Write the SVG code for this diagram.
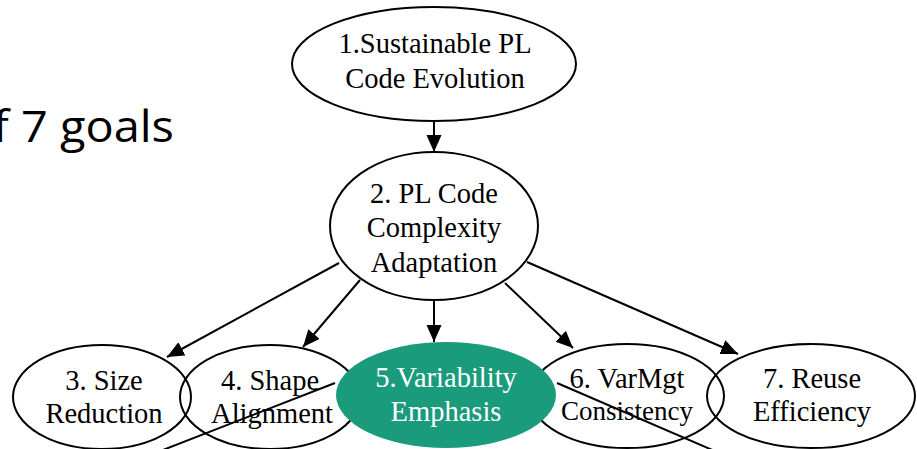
<svg xmlns="http://www.w3.org/2000/svg" width="917" height="449" viewBox="0 0 917 449">
  <style>
    .n { fill: none; stroke: #000; stroke-width: 2; }
    .g { fill: #1a9c7c; stroke: none; }
    .t { font-family: "Liberation Serif", "Times New Roman", serif; font-size: 28.5px; text-anchor: middle; fill: #000; }
    .w { fill: #fff; }
    .e { stroke: #000; stroke-width: 2; fill: none; }
    .title { font-family: "Open Sans", "Noto Sans", sans-serif; font-size: 43px; fill: #000; }
  </style>
  <defs>
    <marker id="arr" markerUnits="userSpaceOnUse" markerWidth="18" markerHeight="16" refX="17" refY="7.5" orient="auto">
      <path d="M0,0 L17,7.5 L0,15 z" fill="#000"/>
    </marker>
  </defs>
  <rect width="917" height="449" fill="#fff"/>

  <text class="title" x="-7" y="142" textLength="181" lengthAdjust="spacingAndGlyphs">f 7 goals</text>

  <g id="node1">
    <ellipse class="n" cx="434" cy="64" rx="142" ry="57"/>
    <text class="t" x="435" y="53">1.Sustainable PL</text>
    <text class="t" x="435" y="88">Code Evolution</text>
  </g>
  <g id="node2">
    <ellipse class="n" cx="434" cy="226" rx="104" ry="74"/>
    <text class="t" x="434" y="203">2. PL Code</text>
    <text class="t" x="434" y="237">Complexity</text>
    <text class="t" x="434" y="272">Adaptation</text>
  </g>
  <g id="node3">
    <ellipse class="n" cx="102" cy="397" rx="89" ry="52"/>
    <text class="t" x="104" y="390">3. Size</text>
    <text class="t" x="104" y="423">Reduction</text>
  </g>
  <g id="node4">
    <ellipse class="n" cx="270" cy="397" rx="90" ry="52"/>
    <text class="t" x="270" y="390">4. Shape</text>
    <text class="t" x="272" y="423">Alignment</text>
  </g>
  <g id="node6">
    <ellipse class="n" cx="627" cy="396" rx="97" ry="52"/>
    <text class="t" x="627" y="388">6. VarMgt</text>
    <text class="t" x="627" y="420" style="font-size:27px">Consistency</text>
  </g>
  <g id="node7">
    <ellipse class="n" cx="811" cy="396" rx="104" ry="52"/>
    <text class="t" x="812" y="388">7. Reuse</text>
    <text class="t" x="812" y="421">Efficiency</text>
  </g>
  <g id="node5">
    <ellipse class="g" cx="446" cy="395" rx="110" ry="53"/>
    <text class="t w" x="446" y="387">5.Variability</text>
    <text class="t w" x="446" y="421">Emphasis</text>
  </g>

  <g id="connectors">
    <line class="e" x1="434" y1="121" x2="434" y2="152" marker-end="url(#arr)"/>
    <line class="e" x1="339" y1="263" x2="167" y2="357" marker-end="url(#arr)"/>
    <line class="e" x1="360" y1="280" x2="303" y2="347" marker-end="url(#arr)"/>
    <line class="e" x1="434" y1="300" x2="434" y2="342" marker-end="url(#arr)"/>
    <line class="e" x1="505" y1="283" x2="573" y2="348" marker-end="url(#arr)"/>
    <line class="e" x1="527" y1="262" x2="738" y2="354" marker-end="url(#arr)"/>
    <line class="e" x1="335" y1="383" x2="150" y2="455"/>
    <line class="e" x1="557" y1="383" x2="724" y2="455"/>
  </g>
</svg>
